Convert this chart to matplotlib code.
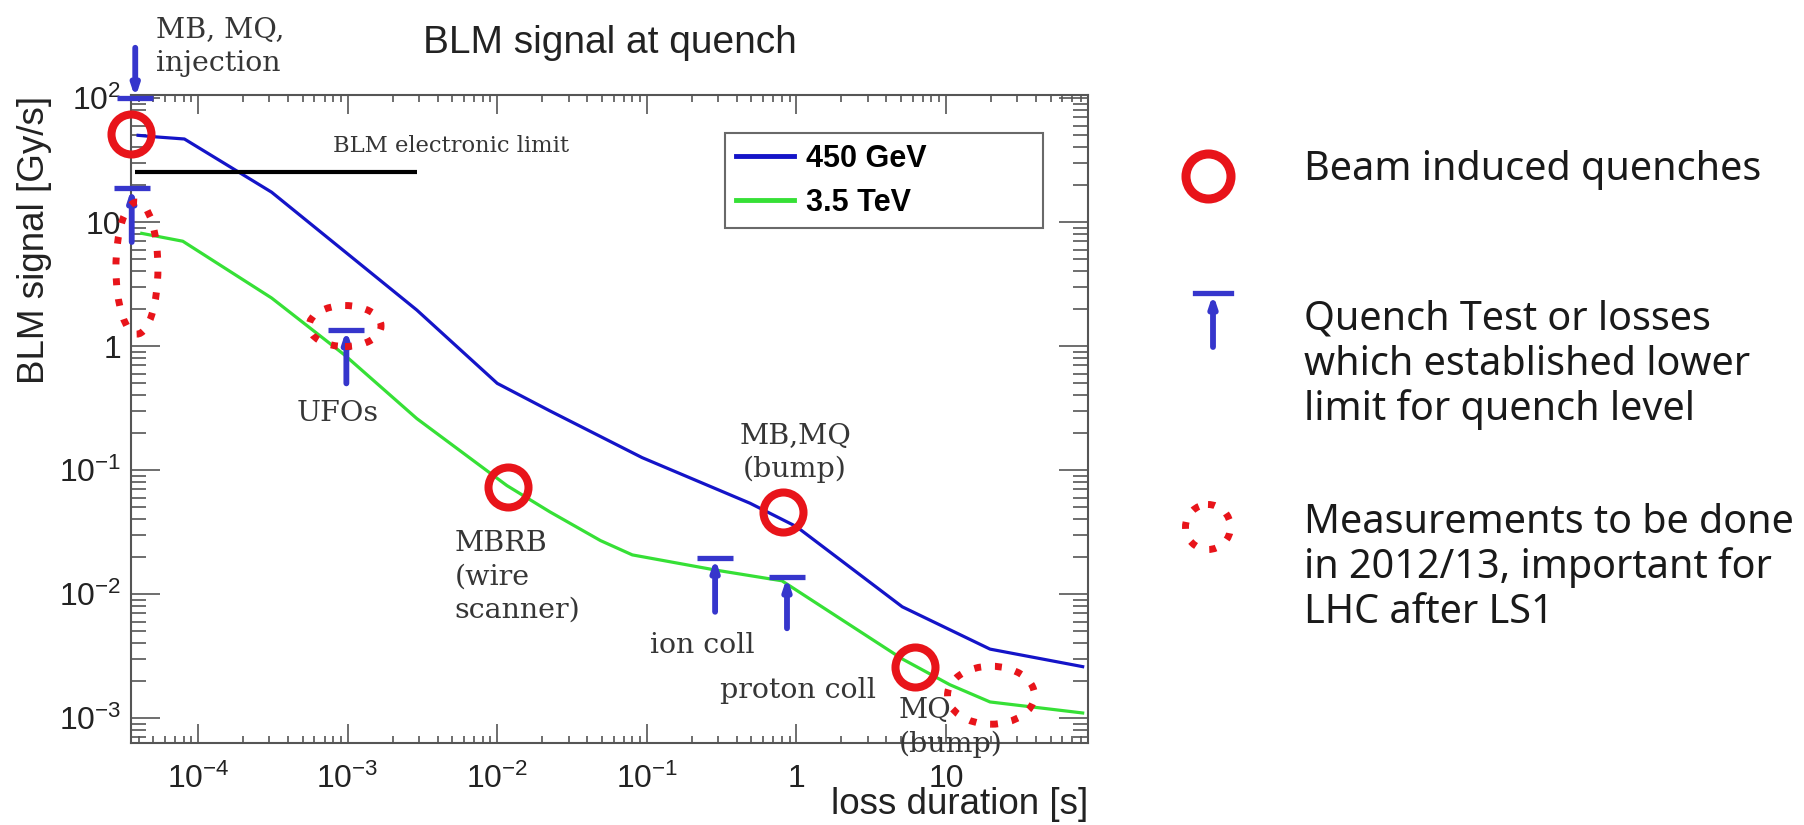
import numpy as np
import matplotlib
matplotlib.use('Agg')
import matplotlib.pyplot as plt
from matplotlib import transforms
from matplotlib.lines import Line2D
from matplotlib.patches import Ellipse
from matplotlib.ticker import LogLocator, NullFormatter

plt.rcParams['font.family'] = 'Liberation Sans'
plt.rcParams['mathtext.fontset'] = 'custom'
plt.rcParams['mathtext.rm'] = 'Liberation Sans'
plt.rcParams['mathtext.it'] = 'Liberation Sans:italic'
plt.rcParams['mathtext.bf'] = 'Liberation Sans:bold'

# quench level curves (loss duration [s], BLM signal [Gy/s])
t_450 = [3.97e-5, 5.3e-5, 8.1e-5, 1.64e-4, 3.1e-4, 2.9e-3, 1.0e-2, 2.25e-2, 9.3e-2, 0.49, 1.0, 5.1, 19.7, 82]
s_450 = [50, 48.5, 46.7, 27.8, 17.4, 1.95, 0.50, 0.30, 0.126, 0.054, 0.035, 0.0079, 0.0036, 0.0026]
t_35 = [4.2e-5, 7.9e-5, 3.1e-4, 9.5e-4, 2.9e-3, 1.16e-2, 2.25e-2, 4.9e-2, 8.0e-2, 0.29, 0.8, 5.1, 10.6, 19.7, 82]
s_35 = [8.1, 7.0, 2.44, 0.85, 0.26, 0.075, 0.046, 0.027, 0.0207, 0.0156, 0.0128, 0.0030, 0.00186, 0.00135, 0.0011]

# BLM electronic limit
elec_limit = 25.3
elec_from, elec_to = 3.8e-5, 2.9e-3

# beam induced quenches (red circles)
quench_t = [3.56e-5, 0.0118, 0.81, 6.2]
quench_s = [51, 0.073, 0.046, 0.0026]

# lower limits (blue T with arrow up)
limit_t = [3.6e-5, 9.8e-4, 0.286, 0.865]
limit_top = [18.8, 1.35, 0.0195, 0.0137]
limit_bottom = [6.9, 0.5, 0.0072, 0.0053]

# injection upper limit (arrow down onto bar)
inj_t, inj_level, inj_from = 3.8e-5, 100, 254

# measurements to be done (dotted ellipses)
todo_t = [3.9e-5, 9.6e-4, 20]
todo_s = [4.25, 1.45, 0.00153]
todo_size_px = [(42, 132), (72, 41), (87, 58)]

x_ticks = [1e-4, 1e-3, 1e-2, 1e-1, 1, 10]
x_tick_labels = ['$10^{-4}$', '$10^{-3}$', '$10^{-2}$', '$10^{-1}$', '1', '10']
y_ticks = [1e-3, 1e-2, 1e-1, 1, 10, 100]
y_tick_labels = ['$10^{-3}$', '$10^{-2}$', '$10^{-1}$', '1', '10', '$10^{2}$']

notes = ['MB, MQ,\ninjection', 'BLM electronic limit', 'UFOs', 'MBRB\n(wire\nscanner)',
         'MB,MQ\n(bump)', 'ion coll', 'proton coll', 'MQ\n(bump)']
note_t = [5.2e-5, 8.0e-4, 8.6e-4, 5.2e-3, 0.98, 0.234, 1.03, 4.85]
note_s = [258, 41, 0.288, 0.0137, 0.137, 0.00388, 0.00168, 8.4e-4]
note_ha = ['left', 'left', 'center', 'left', 'center', 'center', 'center', 'left']

key_text = [['Beam induced quenches'],
            ['Quench Test or losses', 'which established lower', 'limit for quench level'],
            ['Measurements to be done', 'in 2012/13, important for', 'LHC after LS1']]
key_first_y = [170, 320, 523]

c_450 = '#1414c8'
c_35 = '#36e036'
c_red = '#e8141a'
c_limit = '#3636cc'
c_note = '#363636'

fig = plt.figure(figsize=(18.04, 8.25), dpi=100)
ax = fig.add_axes([131 / 1804, 82 / 825, 957 / 1804, 648 / 825])
# pixel coords measured from the top-left corner of the figure
px = transforms.Affine2D().scale(0.01, -0.01).translate(0, 8.25) + fig.dpi_scale_trans

ax.set_xscale('log')
ax.set_yscale('log')
ax.plot(t_450, s_450, color=c_450, lw=2.3, label='450 GeV', zorder=3)
ax.plot(t_35, s_35, color=c_35, lw=2.3, label='3.5 TeV', zorder=3)
ax.hlines(elec_limit, elec_from, elec_to, color='black', lw=3, zorder=3)

ax.plot(quench_t, quench_s, 'o', ms=28.8, mfc='none', mec=c_red, mew=5.8,
        clip_on=False, zorder=6)

arrow_kw = dict(arrowstyle='-|>,head_length=0.6,head_width=0.2',
                color=c_limit, lw=4.2, shrinkA=0, shrinkB=0)


def lower_limit(x, top, bottom):
    ax.plot([x], [top], marker='_', ms=26, mew=3.8, color=c_limit, clip_on=False, zorder=5)
    ax.annotate('', xy=(x, top), xytext=(x, bottom), zorder=5, arrowprops=arrow_kw)


for x, top, bot in zip(limit_t, limit_top, limit_bottom):
    lower_limit(x, top, bot)

# injection: arrow from above down onto the bar
ax.plot([inj_t], [inj_level], marker='_', ms=26, mew=3.8, color=c_limit, clip_on=False, zorder=5)
ax.annotate('', xy=(inj_t, inj_level), xytext=(inj_t, inj_from), zorder=5, arrowprops=arrow_kw)

dotted = dict(fill=False, ec=c_red, lw=5, ls=(0, (1, 2)), clip_on=False, zorder=6)
for x, y, (w, h) in zip(todo_t, todo_s, todo_size_px):
    trans = fig.dpi_scale_trans + transforms.ScaledTranslation(x, y, ax.transData)
    ax.add_patch(Ellipse((0, 0), w / 100, h / 100, transform=trans, **dotted))

for s, x, y, ha in zip(notes, note_t, note_s, note_ha):
    size = 16.3 if s.startswith('BLM') else 20.5
    ax.text(x, y, s, ha=ha, va='center', family='DejaVu Serif', size=size,
            color=c_note, linespacing=1.3, zorder=7)

ax.set_xlim(3.56e-5, 89)
ax.set_ylim(6.3e-4, 105.7)
ax.set_xticks(x_ticks, x_tick_labels)
ax.set_yticks(y_ticks, y_tick_labels)
for axis in (ax.xaxis, ax.yaxis):
    axis.set_minor_locator(LogLocator(base=10, subs=np.arange(2, 10), numticks=30))
    axis.set_minor_formatter(NullFormatter())

for sp in ax.spines.values():
    sp.set_color('#555555')
    sp.set_linewidth(1.5)
ax.tick_params(which='both', direction='in', top=True, right=True,
               colors='#555555', labelcolor='#222222', width=1.2)
ax.tick_params(axis='x', which='major', length=14, pad=15, labelsize=23)
ax.tick_params(axis='x', which='minor', length=5)
ax.tick_params(axis='y', which='major', length=21, pad=7, labelsize=23)
ax.tick_params(axis='y', which='minor', length=11)

ax.set_title('BLM signal at quench', fontsize=28, color='#222222', pad=30)
ax.set_xlabel('loss duration [s]', fontsize=26.5, color='#222222', ha='right')
ax.xaxis.set_label_coords(1.0, -0.068)
ax.set_ylabel('BLM signal [Gy/s]', fontsize=26.5, color='#222222')
ax.yaxis.set_label_coords(-0.0826, 0.776)

leg = ax.legend(loc='upper left', bbox_to_anchor=(0.621, 0.793, 0.332, 0.148), mode='expand',
                prop={'weight': 'bold', 'size': 22}, frameon=True, fancybox=False,
                borderpad=0.35, labelspacing=0.45, handlelength=1.9, handletextpad=0.4,
                borderaxespad=0)
leg.get_frame().set_edgecolor('#444444')
leg.get_frame().set_linewidth(1.5)
for line in leg.get_lines():
    line.set_linewidth(3.5)

# key on the right
fig.add_artist(Line2D([1208], [176], marker='o', ms=32.4, mfc='none', mec=c_red, mew=6.5,
                      transform=px))
fig.add_artist(Line2D([1195, 1231], [293, 293], color=c_limit, lw=3.8, transform=px))
ax.annotate('', xy=(1213, 294), xytext=(1213, 347), xycoords=px, textcoords=px,
            arrowprops=arrow_kw)
fig.add_artist(Ellipse((1208, 527), 45, 45, transform=px, fill=False, ec=c_red, lw=5,
                       ls=(0, (1, 2))))
for lines, y0 in zip(key_text, key_first_y):
    for i, s in enumerate(lines):
        fig.text(1304, y0 + 45 * i, s, transform=px, ha='left', va='center',
                 family='Noto Sans', size=28.5, color='#1a1a1a')

fig.savefig('out.png', dpi=100, facecolor='white')
